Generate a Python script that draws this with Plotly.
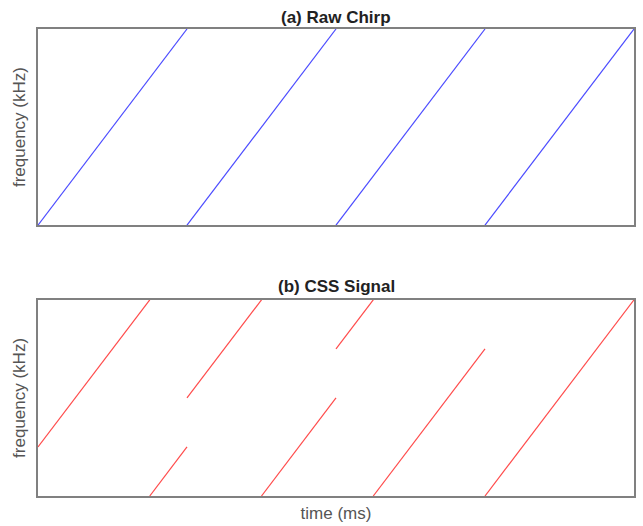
import plotly.graph_objects as go
from plotly.subplots import make_subplots

# Raw chirp: four up-chirps, each spanning one symbol period
raw_x = [0, 1, None, 1, 2, None, 2, 3, None, 3, 4]
raw_y = [0, 1, None, 0, 1, None, 0, 1, None, 0, 1]

# CSS signal: cyclically shifted chirps
css_x = [0, 0.75, None, 0.75, 1, None, 1, 1.5, None, 1.5, 2, None,
         2, 2.25, None, 2.25, 3, None, 3, 4]
css_y = [0.25, 1, None, 0, 0.25, None, 0.5, 1, None, 0, 0.5, None,
         0.75, 1, None, 0, 0.75, None, 0, 1]

FONT = "Arial, Liberation Sans"

fig = make_subplots(rows=2, cols=1, vertical_spacing=0.16)
fig.add_trace(go.Scatter(x=raw_x, y=raw_y, mode="lines",
                         line=dict(color="#4b4bff", width=1.2), showlegend=False), row=1, col=1)
fig.add_trace(go.Scatter(x=css_x, y=css_y, mode="lines",
                         line=dict(color="#ff4b4b", width=1.2), showlegend=False), row=2, col=1)

ax = dict(range=[0, 4], showticklabels=False, ticks="", showgrid=False, zeroline=False,
          showline=True, linecolor="#808080", linewidth=2, mirror=True)
ay = dict(range=[0, 1], showticklabels=False, ticks="", showgrid=False, zeroline=False,
          showline=True, linecolor="#808080", linewidth=2, mirror=True)
fig.update_xaxes(**ax)
fig.update_yaxes(**ay)
fig.update_yaxes(domain=[0.58, 1], row=1, col=1)
fig.update_yaxes(domain=[0, 0.42], row=2, col=1)
fig.update_yaxes(title=dict(text="frequency (kHz)", standoff=6,
                            font=dict(family=FONT, size=17, color="#555")))
fig.update_xaxes(title=dict(text="time (ms)", standoff=10,
                            font=dict(family=FONT, size=17, color="#555")), row=2, col=1)

fig.add_annotation(text="<b>(a) Raw Chirp</b>", x=0.5, y=1, xref="paper", yref="paper",
                   yanchor="bottom", showarrow=False, yshift=0,
                   font=dict(family=FONT, size=17, color="#222"))
fig.add_annotation(text="<b>(b) CSS Signal</b>", x=0.5, y=0.42, xref="paper", yref="paper",
                   yanchor="bottom", showarrow=False, yshift=2,
                   font=dict(family=FONT, size=17, color="#222"))

fig.update_layout(width=643, height=526, margin=dict(l=38, r=7, t=29, b=30),
                  plot_bgcolor="white", paper_bgcolor="white")
fig.write_html("out.html")
